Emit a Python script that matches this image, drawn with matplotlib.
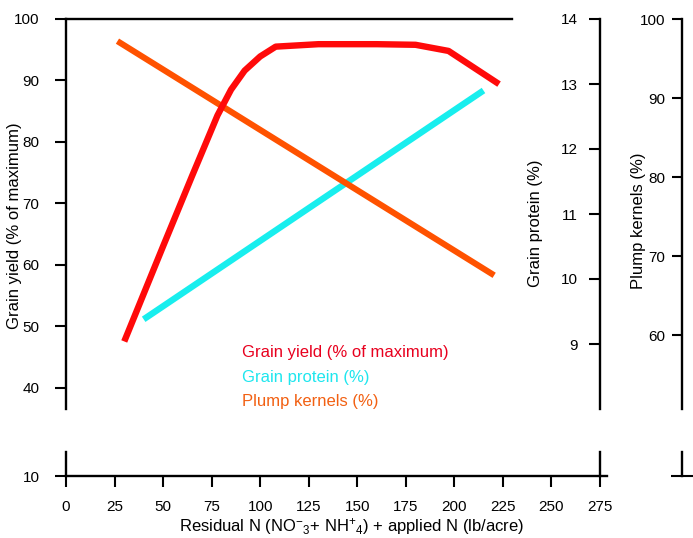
import matplotlib.pyplot as plt

plt.rcParams['font.family'] = ['Liberation Sans', 'DejaVu Sans']
plt.rcParams['mathtext.fontset'] = 'custom'
plt.rcParams['mathtext.rm'] = 'Liberation Sans'
plt.rcParams['mathtext.it'] = 'Liberation Sans:italic'
plt.rcParams['mathtext.bf'] = 'Liberation Sans:bold'

# ── data ──────────────────────────────────────────────────────────────────────
n_yield = [30, 50, 65, 78, 85, 92, 100, 108, 130, 160, 180, 197, 223]
grain_yield = [47.5, 63, 74.5, 84.3, 88.5, 91.6, 93.9, 95.5, 95.9, 95.9, 95.8, 94.8, 89.4]

n_protein = [40, 215]
grain_protein = [9.38, 12.9]

n_plump = [26.5, 220.5]
plump_kernels = [97.2, 67.6]

x_ticks = [0, 25, 50, 75, 100, 125, 150, 175, 200, 225, 250, 275]
yield_ticks = [40, 50, 60, 70, 80, 90, 100]
protein_ticks = [9, 10, 11, 12, 13, 14]
plump_ticks = [60, 70, 80, 90, 100]

RED = "#ff0a0a"
CYAN = "#18eeee"
ORANGE = "#ff5200"
LW_AX = 1.7
FS_TICK = 11
FS_LABEL = 12

fig = plt.figure(figsize=(6.93, 5.38), dpi=100)
W, H = 693, 538
left, width = 66 / W, 534 / W

ax = fig.add_axes([left, 1 - 409 / H, width, 390 / H])
axb = fig.add_axes([left, 1 - 476 / H, width, 24 / H])

# ── main (top) axes: grain yield ─────────────────────────────────────────────
ax.set_xlim(0, 275)
ax.set_ylim(36.5, 100)
ax.plot(n_yield, grain_yield, color=RED, lw=4.6, solid_capstyle="butt",
        solid_joinstyle="round")
ax.set_yticks(yield_ticks)
ax.set_xticks([])
ax.spines["bottom"].set_visible(False)
ax.spines["right"].set_visible(False)
ax.spines["top"].set_bounds(0, 229.7)
for s in ("left", "top"):
    ax.spines[s].set_linewidth(LW_AX)
ax.tick_params(axis="y", direction="out", length=8, width=1.5, pad=11, labelsize=FS_TICK)
ax.set_ylabel("Grain yield (% of maximum)", fontsize=FS_LABEL)
ax.yaxis.set_label_coords(-0.083, 0.47)

# ── protein axis ─────────────────────────────────────────────────────────────
axp = ax.twinx()
axp.set_ylim(8.0, 14.0)
axp.plot(n_protein, grain_protein, color=CYAN, lw=4.6, solid_capstyle="butt")
axp.yaxis.set_ticks_position("left")
axp.yaxis.set_label_position("left")
axp.spines["left"].set_position(("axes", 1.0))
for s in ("right", "top", "bottom"):
    axp.spines[s].set_visible(False)
axp.spines["left"].set_linewidth(LW_AX)
axp.set_yticks(protein_ticks)
axp.set_yticks([14], minor=True)
axp.tick_params(axis="y", which="major", direction="out", length=8, width=1.5, pad=8, labelsize=FS_TICK)
axp.tick_params(axis="y", which="minor", direction="in", length=8, width=1.5)
axp.set_ylabel("Grain protein (%)", fontsize=FS_LABEL)
axp.yaxis.set_label_coords(0.893, 0.477)

# ── plump kernels axis ───────────────────────────────────────────────────────
axk = ax.twinx()
axk.set_ylim(50.7, 100)
axk.plot(n_plump, plump_kernels, color=ORANGE, lw=4.4, solid_capstyle="butt")
axk.yaxis.set_ticks_position("left")
axk.yaxis.set_label_position("left")
axk.spines["left"].set_position(("axes", 616 / 534))
for s in ("right", "top", "bottom"):
    axk.spines[s].set_visible(False)
axk.spines["left"].set_linewidth(LW_AX)
axk.set_yticks(plump_ticks)
axk.set_yticks([100], minor=True)
axk.tick_params(axis="y", which="major", direction="out", length=7, width=1.5, pad=5, labelsize=FS_TICK)
axk.tick_params(axis="y", which="minor", direction="in", length=8, width=1.5)
axk.set_ylabel("Plump kernels (%)", fontsize=FS_LABEL)
axk.yaxis.set_label_coords(1.086, 0.483)

# red curve on top of the others
ax.set_zorder(3)
ax.patch.set_visible(False)

# ── legend text ──────────────────────────────────────────────────────────────
ax.text(0.3296, 0.1436, "Grain yield (% of maximum)", color="#e8001e", fontsize=FS_LABEL,
        va="center", transform=ax.transAxes)
ax.text(0.3296, 0.082, "Grain protein (%)", color="#1ee6ee", fontsize=FS_LABEL,
        va="center", transform=ax.transAxes)
ax.text(0.3296, 0.0205, "Plump kernels (%)", color="#f26012", fontsize=FS_LABEL,
        va="center", transform=ax.transAxes)

# ── bottom (broken) axes ─────────────────────────────────────────────────────
axb.set_xlim(0, 275)
axb.set_ylim(10, 12)
axb.set_xticks(x_ticks)
axb.set_yticks([10])
axb.spines["top"].set_visible(False)
axb.spines["bottom"].set_bounds(0, 278.5)
for s in ("left", "right", "bottom"):
    axb.spines[s].set_linewidth(LW_AX)
axb.tick_params(axis="x", direction="out", length=8, width=1.5, pad=9, labelsize=FS_TICK)
axb.tick_params(axis="y", direction="out", length=8, width=1.5, pad=11, labelsize=FS_TICK)
axb.set_xlabel(r"Residual N (NO$^{-}$$_{3}$+ NH$^{+}$$_{4}$) + applied N (lb/acre)",
               fontsize=FS_LABEL)
axb.xaxis.set_label_coords(0.534, -1.68)

axbk = axb.twinx()
axbk.set_ylim(10, 12)
axbk.yaxis.set_ticks_position("left")
axbk.spines["left"].set_position(("axes", 616 / 534))
for s in ("right", "top", "bottom"):
    axbk.spines[s].set_visible(False)
axbk.spines["left"].set_linewidth(LW_AX)
axbk.set_yticks([10])
axbk.set_yticklabels([""])
axbk.tick_params(axis="y", direction="inout", length=16, width=1.5)

fig.savefig("out.png", dpi=100)
